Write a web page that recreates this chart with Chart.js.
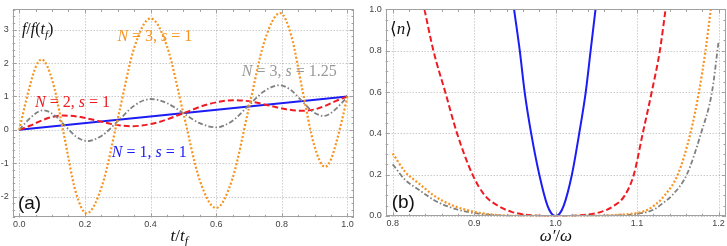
<!DOCTYPE html>
<html>
<head>
<meta charset="utf-8">
<script src="https://cdn.jsdelivr.net/npm/chart.js@4.4.1/dist/chart.umd.min.js"></script>
<style>
  html, body { margin: 0; padding: 0; background: #fff; }
  #wrap { position: relative; width: 727px; height: 246px; }
  #chartA { position: absolute; left: 0; top: 0; }
  #chartB { position: absolute; left: 360px; top: 0; }
</style>
</head>
<body>
<div id="wrap">
  <canvas id="chartA" width="360" height="246"></canvas>
  <canvas id="chartB" width="367" height="246"></canvas>
</div>
<script>
// ---- panel (a): f/f(t_f) vs t/t_f ----
const tN1 = [0, 1];
const fN1 = [0, 1];

const tN2 = [0, 0.034, 0.068, 0.101, 0.135, 0.187, 0.239, 0.291, 0.343, 0.4215, 0.5, 0.5785, 0.657, 0.709, 0.761, 0.813, 0.865, 0.899, 0.932, 0.966, 1];
const fN2 = [0, 0.13, 0.28, 0.39, 0.43, 0.383, 0.27, 0.157, 0.11, 0.224, 0.5, 0.776, 0.89, 0.843, 0.73, 0.617, 0.57, 0.61, 0.72, 0.87, 1];

const tN3 = [0, 0.017, 0.034, 0.05, 0.068, 0.102, 0.137, 0.171, 0.205, 0.253, 0.302, 0.351, 0.4, 0.45, 0.5, 0.55, 0.6, 0.649, 0.698, 0.747, 0.795, 0.829, 0.863, 0.898, 0.932, 0.95, 0.966, 0.983, 1];
const fN3 = [0, 0.72, 1.38, 1.88, 2.11, 1.44, -0.19, -1.82, -2.5, -1.65, 0.42, 2.48, 3.34, 2.51, 0.5, -1.51, -2.34, -1.48, 0.58, 2.65, 3.5, 2.82, 1.19, -0.44, -1.11, -0.88, -0.38, 0.28, 1];

const tN3s = [0, 0.018, 0.036, 0.054, 0.072, 0.106, 0.1395, 0.173, 0.207, 0.255, 0.3035, 0.352, 0.4, 0.45, 0.5, 0.55, 0.6, 0.648, 0.6965, 0.745, 0.793, 0.827, 0.8605, 0.894, 0.928, 0.946, 0.964, 0.982, 1];
const fN3s = [0, 0.2, 0.38, 0.52, 0.585, 0.45, 0.125, -0.2, -0.335, -0.15, 0.295, 0.74, 0.925, 0.8, 0.5, 0.2, 0.075, 0.26, 0.705, 1.15, 1.335, 1.2, 0.875, 0.55, 0.415, 0.48, 0.62, 0.8, 1];

const aXTicks = [0, 0.2, 0.4, 0.6, 0.8, 1.0];
const aYTicks = [-2, -1, 0, 1, 2, 3];

// ---- panel (b): <n> vs omega'/omega ----
const wN1 = [0.949, 0.956, 0.962, 0.970, 0.980, 0.990, 0.995, 1.0, 1.005, 1.010, 1.020, 1.029, 1.037, 1.043, 1.049];
const nN1 = [1.0, 0.8, 0.6, 0.4, 0.2, 0.05, 0.012, 0, 0.012, 0.05, 0.2, 0.4, 0.6, 0.8, 1.0];

const wN2 = [0.839, 0.850, 0.8645, 0.879, 0.898, 0.913, 0.929, 0.946, 0.97, 1.0, 1.03, 1.056, 1.072, 1.085, 1.096, 1.107, 1.118, 1.128, 1.135];
const nN2 = [1.0, 0.8, 0.6, 0.4, 0.2, 0.1, 0.05, 0.02, 0.003, 0, 0.003, 0.02, 0.05, 0.1, 0.2, 0.4, 0.6, 0.8, 1.0];

const wN3 = [0.8, 0.8155, 0.832, 0.852, 0.873, 0.9, 0.93, 0.96, 1.0, 1.04, 1.07, 1.1, 1.113, 1.124, 1.134, 1.150, 1.1655, 1.176, 1.184, 1.1905];
const nN3 = [0.303, 0.213, 0.158, 0.095, 0.052, 0.02, 0.004, 0.0005, 0, 0.0005, 0.004, 0.015, 0.03, 0.06, 0.1, 0.2, 0.4, 0.6, 0.8, 1.0];

const wN3s = [0.8, 0.8155, 0.832, 0.852, 0.873, 0.9, 0.93, 0.96, 1.0, 1.04, 1.075, 1.1, 1.12, 1.131, 1.143, 1.161, 1.1785, 1.192, 1.2];
const nN3s = [0.25, 0.174, 0.127, 0.074, 0.039, 0.014, 0.003, 0.0003, 0, 0.0003, 0.003, 0.01, 0.03, 0.06, 0.1, 0.2, 0.4, 0.6, 0.842];

const bXTicks = [0.8, 0.9, 1.0, 1.1, 1.2];
const bYTicks = [0, 0.2, 0.4, 0.6, 0.8, 1.0];

const BLUE = '#1c1cf5';
const RED = '#ee1c22';
const ORANGE = '#f7931e';
const GRAY = '#808080';
const SERIF = '"Liberation Serif", "DejaVu Serif", serif';
const SANS = '"Liberation Sans", Arial, sans-serif';

const pts = (xs, ys) => xs.map((x, i) => ({ x: x, y: ys[i] }));

function drawRuns(ctx, runs, x, y, size, color, align) {
  const font = s => s === 'n' ? size + 'px ' + SERIF
    : s === 's' ? 'italic ' + Math.round(size * 0.68) + 'px ' + SERIF
    : s === 'sans' ? size + 'px ' + SANS
    : 'italic ' + size + 'px ' + SERIF;
  let total = 0;
  runs.forEach(([t, s]) => { ctx.font = font(s); total += ctx.measureText(t).width; });
  let cx = align === 'center' ? x - total / 2 : x;
  ctx.fillStyle = color;
  ctx.textAlign = 'left';
  ctx.textBaseline = 'alphabetic';
  runs.forEach(([t, s]) => {
    ctx.font = font(s);
    ctx.fillText(t, cx, s === 's' ? y + size * 0.22 : y);
    cx += ctx.measureText(t).width;
  });
}

// dotted grid underneath, Mathematica-like frame with inner ticks + text on top
const framePlugin = {
  id: 'frame',
  beforeDatasetsDraw(chart, args, o) {
    const { ctx, chartArea: a, scales: { x, y } } = chart;
    ctx.save();
    ctx.strokeStyle = 'rgba(0,0,0,0.3)';
    ctx.lineWidth = 1;
    ctx.setLineDash([1, 2]);
    o.xTicks.forEach(v => {
      const px = Math.round(x.getPixelForValue(v)) + 0.5;
      ctx.beginPath(); ctx.moveTo(px, a.top); ctx.lineTo(px, a.bottom); ctx.stroke();
    });
    o.yTicks.forEach(v => {
      const py = Math.round(y.getPixelForValue(v)) + 0.5;
      ctx.beginPath(); ctx.moveTo(a.left, py); ctx.lineTo(a.right, py); ctx.stroke();
    });
    ctx.restore();
  },
  afterDatasetsDraw(chart, args, o) {
    const { ctx, chartArea: a, scales: { x, y } } = chart;
    ctx.save();
    ctx.strokeStyle = '#a0a0a0';
    ctx.lineWidth = 1;
    ctx.setLineDash([]);
    ctx.strokeRect(Math.round(a.left) + 0.5, Math.round(a.top) + 0.5,
      Math.round(a.right) - Math.round(a.left) - 1, Math.round(a.bottom) - Math.round(a.top) - 1);
    const isMajor = (v, list) => list.some(m => Math.abs(m - v) < 1e-6);
    ctx.beginPath();
    for (let i = Math.ceil(x.min / o.xMinor - 1e-6); i * o.xMinor <= x.max + 1e-9; i++) {
      const v = i * o.xMinor;
      const len = isMajor(v, o.xTicks) ? 4 : 2.5;
      const px = Math.round(x.getPixelForValue(v)) + 0.5;
      ctx.moveTo(px, a.bottom); ctx.lineTo(px, a.bottom - len);
      ctx.moveTo(px, a.top); ctx.lineTo(px, a.top + len);
    }
    for (let i = Math.ceil(y.min / o.yMinor - 1e-6); i * o.yMinor <= y.max + 1e-9; i++) {
      const v = i * o.yMinor;
      const len = isMajor(v, o.yTicks) ? 4 : 2.5;
      const py = Math.round(y.getPixelForValue(v)) + 0.5;
      ctx.moveTo(a.left, py); ctx.lineTo(a.left + len, py);
      ctx.moveTo(a.right, py); ctx.lineTo(a.right - len, py);
    }
    ctx.stroke();
    o.labels.forEach(l => {
      const px = x.getPixelForValue(l.x);
      const py = l.py !== undefined ? l.py : y.getPixelForValue(l.y);
      drawRuns(ctx, l.runs, l.center ? (a.left + a.right) / 2 + (l.dx || 0) : px, py, l.size, l.color, l.center ? 'center' : 'left');
    });
    ctx.restore();
  }
};

function lineDs(xs, ys, color, width, dash) {
  return {
    data: pts(xs, ys),
    borderColor: color,
    borderWidth: width,
    borderDash: dash,
    borderCapStyle: 'butt',
    pointRadius: 0,
    fill: false,
    cubicInterpolationMode: 'monotone'
  };
}

function axis(min, max, ticks, fmt, isX, size) {
  return {
    type: 'linear',
    min: min,
    max: max,
    grid: { display: false, drawTicks: false },
    border: { display: false },
    afterBuildTicks: s => { s.ticks = ticks.map(v => ({ value: v })); },
    afterFit: s => { if (isX) s.height = size; else s.width = size; },
    ticks: {
      autoSkip: false,
      maxRotation: 0,
      padding: isX ? 2 : 4,
      color: '#444',
      font: { family: SANS, size: 9 },
      callback: v => fmt(v)
    }
  };
}

new Chart(document.getElementById('chartA'), {
  type: 'line',
  data: {
    datasets: [
      lineDs(tN3, fN3, ORANGE, 2.2, [2, 2]),
      lineDs(tN3s, fN3s, GRAY, 1.8, [5, 2.2, 1.5, 2.2]),
      lineDs(tN2, fN2, RED, 2, [6, 3]),
      lineDs(tN1, fN1, BLUE, 2, [])
    ]
  },
  options: {
    responsive: false,
    animation: false,
    layout: { padding: { left: 0, right: 6, top: 5, bottom: 0 } },
    plugins: {
      legend: { display: false },
      tooltip: { enabled: false },
      frame: {
        xTicks: aXTicks, yTicks: aYTicks, xMinor: 0.05, yMinor: 0.2,
        labels: [
          { x: 0.008, y: 2.86, size: 16, color: '#111', runs: [['f', 'i'], ['/', 'n'], ['f', 'i'], ['(', 'n'], ['t', 'i'], ['f', 's'], [')', 'n']] },
          { x: 0.299, y: 2.655, size: 16, color: ORANGE, runs: [['N', 'i'], [' = 3, ', 'n'], ['s', 'i'], [' = 1', 'n']] },
          { x: 0.678, y: 1.60, size: 16, color: '#999', runs: [['N', 'i'], [' = 3, ', 'n'], ['s', 'i'], [' = 1.25', 'n']] },
          { x: 0.048, y: 0.68, size: 16, color: RED, runs: [['N', 'i'], [' = 2, ', 'n'], ['s', 'i'], [' = 1', 'n']] },
          { x: 0.282, y: -0.825, size: 16, color: BLUE, runs: [['N', 'i'], [' = 1, ', 'n'], ['s', 'i'], [' = 1', 'n']] },
          { x: -0.004, y: -2.36, size: 19, color: '#111', runs: [['(a)', 'sans']] },
          { x: 0, center: true, dx: -4, py: 241, size: 17, color: '#111', runs: [['t', 'i'], ['/', 'n'], ['t', 'i'], ['f', 's']] }
        ]
      }
    },
    scales: {
      x: axis(-0.02, 1.02, aXTicks, v => v.toFixed(1), true, 28.7),
      y: axis(-2.62, 3.61, aYTicks, v => String(v), false, 12.7)
    }
  },
  plugins: [framePlugin]
});

new Chart(document.getElementById('chartB'), {
  type: 'line',
  data: {
    datasets: [
      lineDs(wN3, nN3, ORANGE, 2.2, [2, 2]),
      lineDs(wN3s, nN3s, GRAY, 1.8, [5, 2.2, 1.5, 2.2]),
      lineDs(wN2, nN2, RED, 2, [6, 3]),
      lineDs(wN1, nN1, BLUE, 2, [])
    ]
  },
  options: {
    responsive: false,
    animation: false,
    layout: { padding: { left: 0, right: 1, top: 5, bottom: 0 } },
    plugins: {
      legend: { display: false },
      tooltip: { enabled: false },
      frame: {
        xTicks: bXTicks, yTicks: bYTicks, xMinor: 0.02, yMinor: 0.05,
        labels: [
          { x: 0.7967, y: 0.88, size: 17, color: '#111', runs: [['\u27E8', 'n'], ['n', 'i'], ['\u27E9', 'n']] },
          { x: 0.7988, y: 0.038, size: 19, color: '#111', runs: [['(b)', 'sans']] },
          { x: 1.0, center: true, dx: 0, py: 241, size: 17, color: '#111', runs: [['\u03C9\u2032', 'i'], ['/', 'n'], ['\u03C9', 'i']] }
        ]
      }
    },
    scales: {
      x: axis(0.7914, 1.2092, bXTicks, v => v.toFixed(1), true, 29.7),
      y: axis(-0.0015, 1.0, bYTicks, v => v.toFixed(1), false, 25.7)
    }
  },
  plugins: [framePlugin]
});
</script>
</body>
</html>
